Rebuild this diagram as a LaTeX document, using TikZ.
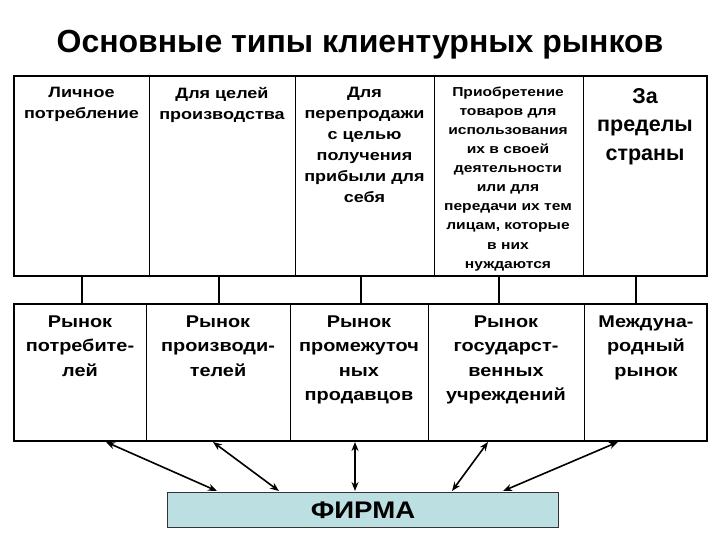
\documentclass[tikz,border=0pt]{standalone}
\usepackage{fontspec}
\setmainfont{Liberation Sans}
\newfontfamily\wideA[FakeStretch=1.2]{Liberation Sans}
\newfontfamily\wideB[FakeStretch=1.17]{Liberation Sans}
\newfontfamily\wideC[FakeStretch=1.15]{Liberation Sans}
\usetikzlibrary{arrows.meta}
\definecolor{firmafill}{HTML}{BCDFE2}
\tikzset{
  outerbox/.style={draw=black, line width=1.8pt},
  divider/.style={draw=black, line width=1pt},
  link/.style={draw=black, line width=1.8pt},
  dbl/.style={draw=black, line width=1.6pt, {Stealth[length=9pt,width=7pt]}-{Stealth[length=9pt,width=7pt]}},
  toptext/.style={anchor=north, inner sep=0pt, align=center, font=\wideA\bfseries\fontsize{15}{21}\selectfont},
  smalltext/.style={anchor=north, inner sep=0pt, align=center, font=\wideA\bfseries\fontsize{13}{19.1}\selectfont},
  bigtext/.style={anchor=north, inner sep=0pt, align=center, font=\bfseries\fontsize{21.5}{28.5}\selectfont},
  bottext/.style={anchor=north, inner sep=0pt, align=center, font=\wideB\bfseries\fontsize{17}{24.5}\selectfont},
}
\begin{document}
\begin{tikzpicture}[x=1pt,y=-1pt]
\useasboundingbox[fill=white] (0,0) rectangle (720,540);
% title
\node[anchor=base, inner sep=0pt, font=\bfseries\fontsize{32}{36}\selectfont] (title) at (360,52.5) {Основные типы клиентурных рынков};
% top box
\draw[divider] (149,76) -- (149,276) (295,76) -- (295,276) (434,76) -- (434,276) (583,76) -- (583,276);
\draw[outerbox] (14,76) rectangle (707,276);
\node[toptext] (t1) at (81.5,86.7) {Личное\\потребление};
\node[toptext] (t2) at (222,86.7) {Для целей\\производства};
\node[toptext] (t3) at (364.5,86.7) {Для\\перепродажи\\с целью\\получения\\прибыли для\\себя};
\node[smalltext] (t4) at (508,86.5) {Приобретение\\товаров для\\использования\\их в своей\\деятельности\\или для\\передачи их тем\\лицам, которые\\в них\\нуждаются};
\node[bigtext] (t5) at (645,88) {За\\пределы\\страны};
% bottom box
\draw[divider] (146,304) -- (146,441) (290,304) -- (290,441) (428,304) -- (428,441) (584,304) -- (584,441);
\draw[outerbox] (14,304) rectangle (707,441);
\node[bottext] (b1) at (80,315.5) {Рынок\\потребите-\\лей};
\node[bottext] (b2) at (218,315.5) {Рынок\\производи-\\телей};
\node[bottext] (b3) at (359,315.5) {Рынок\\промежуточ\\ных\\продавцов};
\node[bottext] (b4) at (506,315.5) {Рынок\\государст-\\венных\\учреждений};
\node[bottext] (b5) at (646,315.5) {Междуна-\\родный\\рынок};
% links between boxes
\foreach \i/\x in {1/82,2/219,3/361,4/499,5/636}{
  \coordinate (u\i) at (\x,276);
  \coordinate (d\i) at (\x,304);
  \draw[link] (u\i) -- (d\i);
}
% firm
\node[draw=black!80, line width=0.8pt, fill=firmafill, minimum width=391pt, minimum height=35pt, inner sep=0pt] (firma) at (362.5,509.5) {};
\node[anchor=base, inner sep=0pt, font=\wideC\bfseries\fontsize{24}{28}\selectfont] (firmatext) at (363,518.5) {ФИРМА};
% arrows
\coordinate (m1) at (106,442); \coordinate (f1) at (217,491);
\coordinate (m2) at (213,442); \coordinate (f2) at (279,491);
\coordinate (m3) at (355,442); \coordinate (f3) at (355,491);
\coordinate (m4) at (488,442); \coordinate (f4) at (452,491);
\coordinate (m5) at (618,442); \coordinate (f5) at (503,491);
\foreach \i in {1,...,5}{ \draw[dbl] (m\i) -- (f\i); }
\end{tikzpicture}
\end{document}
